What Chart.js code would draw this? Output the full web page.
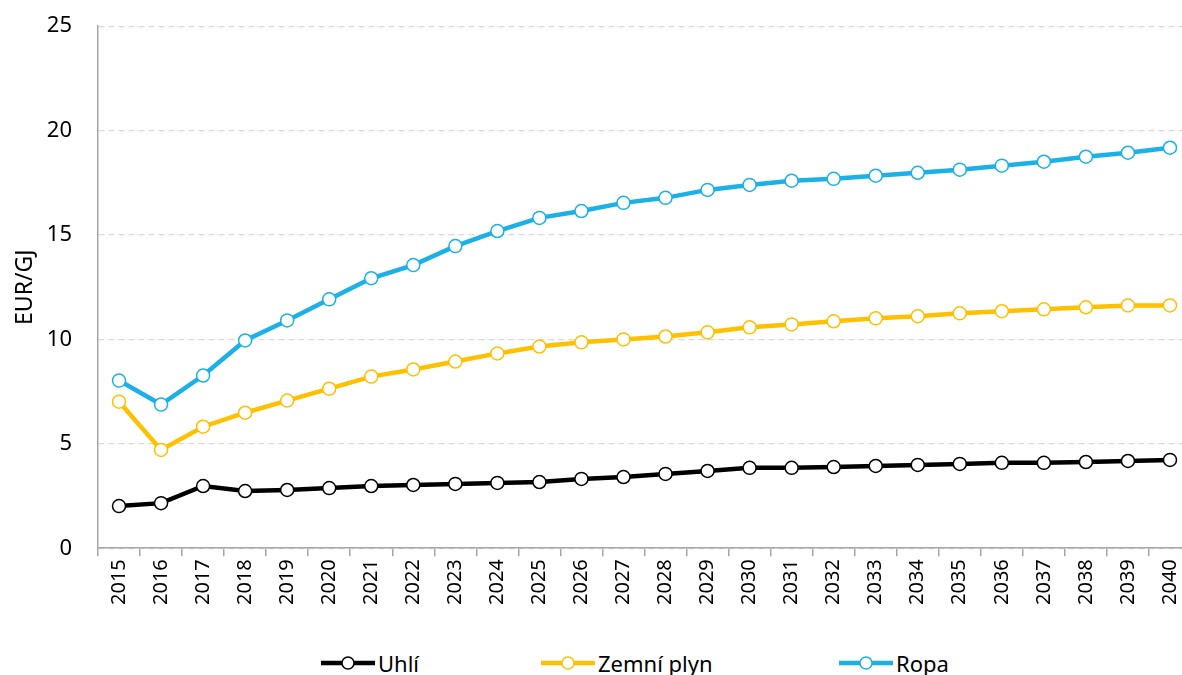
<!DOCTYPE html>
<html>
<head>
<meta charset="utf-8">
<script src="https://cdn.jsdelivr.net/npm/chart.js@4/dist/chart.umd.min.js"></script>
<style>
  body { margin: 0; background: #fff; overflow: hidden; }
  #wrap { position: relative; width: 1182px; height: 675px; overflow: hidden; }
  #chartBox { position: absolute; left: 0; top: -13px; width: 1199px; height: 625px; }
  #legend { position: absolute; left: 0; top: 648px; width: 1182px; height: 30px;
            font-family: 'Noto Sans', sans-serif; font-size: 22px; color: #000; }
  .item { position: absolute; top: 0; display: flex; align-items: center; height: 30px; }
  .item canvas { margin-right: 2px; }
</style>
</head>
<body>
<div id="wrap">
  <div id="chartBox"><canvas id="priceChart"></canvas></div>
  <div id="legend"></div>
</div>
<script>
const years = ['2015','2016','2017','2018','2019','2020','2021','2022','2023','2024','2025','2026','2027',
               '2028','2029','2030','2031','2032','2033','2034','2035','2036','2037','2038','2039','2040'];
const uhli = [2.02, 2.16, 2.98, 2.74, 2.79, 2.88, 2.98, 3.03, 3.08, 3.13, 3.17, 3.32, 3.41,
              3.56, 3.70, 3.85, 3.85, 3.89, 3.94, 3.99, 4.04, 4.09, 4.09, 4.13, 4.18, 4.23];
const zemniPlyn = [7.02, 4.71, 5.82, 6.49, 7.07, 7.64, 8.22, 8.56, 8.94, 9.33, 9.66, 9.86, 10.0,
                   10.14, 10.34, 10.58, 10.72, 10.87, 11.01, 11.11, 11.25, 11.35, 11.44, 11.54, 11.63, 11.63];
const ropa = [8.03, 6.88, 8.27, 9.95, 10.91, 11.92, 12.93, 13.56, 14.47, 15.19, 15.82, 16.15, 16.54,
              16.78, 17.16, 17.40, 17.60, 17.69, 17.84, 17.98, 18.13, 18.32, 18.51, 18.75, 18.94, 19.18];
const yTicks = [0, 5, 10, 15, 20, 25];

const fontFam = "'Noto Sans', 'Open Sans', sans-serif";

// line + circle icon for the legend, like the Excel one
function legendIcon(color) {
    const c = document.createElement('canvas');
    c.width = 56; c.height = 16;
    const g = c.getContext('2d');
    g.strokeStyle = color;
    g.lineWidth = 4.5;
    g.beginPath(); g.moveTo(1, 8); g.lineTo(55, 8); g.stroke();
    g.beginPath(); g.arc(28, 8, 6, 0, Math.PI * 2);
    g.fillStyle = '#fff'; g.fill();
    g.lineWidth = 1.5; g.stroke();
    return c;
}

function makeSet(label, data, color) {
    return {
        label: label,
        data: data,
        borderColor: color,
        backgroundColor: '#fff',
        borderWidth: 4.5,
        pointRadius: 6.5,
        pointBorderWidth: 1.5,
        pointBackgroundColor: '#fff',
        pointBorderColor: color,
        tension: 0
    };
}

const ctx = document.getElementById('priceChart').getContext('2d');
const chart = new Chart(ctx, {
    type: 'line',
    data: {
        labels: years,
        datasets: [
            makeSet('Uhlí', uhli, '#000000'),
            makeSet('Zemní plyn', zemniPlyn, '#FFC000'),
            makeSet('Ropa', ropa, '#1BB1E7')
        ]
    },
    options: {
        responsive: true,
        maintainAspectRatio: false,
        animation: false,
        layout: { padding: { top: 0, right: 0, left: 8, bottom: 4 } },
        plugins: {
            tooltip: { enabled: false },
            legend: { display: false }
        },
        scales: {
            x: {
                offset: true,
                grid: {
                    offset: true,
                    drawOnChartArea: false,
                    drawTicks: true,
                    tickLength: 8,
                    color: '#A6A6A6',
                    lineWidth: 1.5
                },
                border: { color: '#A6A6A6', width: 1.5 },
                ticks: {
                    color: '#000',
                    font: { family: fontFam, size: 20 },
                    maxRotation: 90,
                    minRotation: 90,
                    autoSkip: false,
                    padding: 3
                }
            },
            y: {
                min: 0,
                max: 25,
                afterBuildTicks: function(axis) {
                    axis.ticks = yTicks.map(v => ({ value: v }));
                },
                afterFit: function(axis) {
                    axis.width = 90;
                },
                grid: {
                    color: '#D9D9D9',
                    lineWidth: 1.2,
                    drawTicks: false
                },
                border: { color: '#A6A6A6', width: 1.5, dash: [6, 4] },
                ticks: {
                    color: '#000',
                    font: { family: fontFam, size: 22 },
                    padding: 26
                },
                title: {
                    display: true,
                    text: 'EUR/GJ',
                    color: '#000',
                    font: { family: fontFam, size: 23 },
                    padding: 4
                }
            }
        }
    }
});

// legend under the chart, spread out like in Excel
const legendPos = [320, 540, 838];
const legendBox = document.getElementById('legend');
chart.data.datasets.forEach((ds, i) => {
    const item = document.createElement('div');
    item.className = 'item';
    item.style.left = legendPos[i] + 'px';
    item.appendChild(legendIcon(ds.borderColor));
    const span = document.createElement('span');
    span.textContent = ds.label;
    item.appendChild(span);
    legendBox.appendChild(item);
});
</script>
</body>
</html>
